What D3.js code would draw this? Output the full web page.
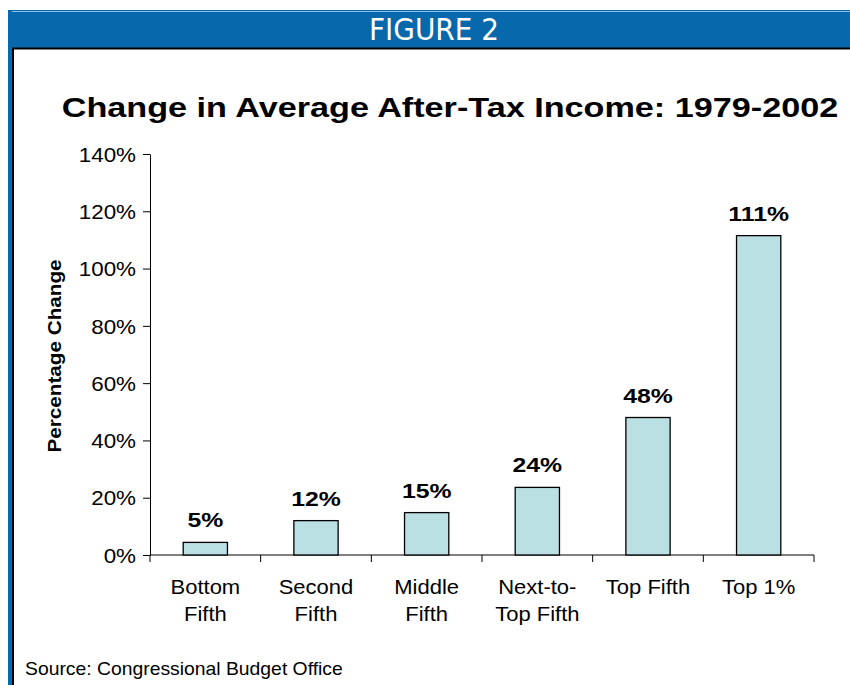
<!DOCTYPE html>
<html><head><meta charset="utf-8">
<script src="https://cdn.jsdelivr.net/npm/d3@7"></script>
<style>body{margin:0;background:#fff}svg{display:block}</style>
</head><body>
<svg id="c" width="850" height="685"></svg>
<script>
const categories = [["Bottom","Fifth"],["Second","Fifth"],["Middle","Fifth"],["Next-to-","Top Fifth"],["Top Fifth"],["Top 1%"]];
const values = [4.4, 12, 14.8, 23.6, 48, 111.5];
const valueLabels = ["5%","12%","15%","24%","48%","111%"];
const yTicks = [0,20,40,60,80,100,120,140];

const svg = d3.select("#c");
const F = "Arial, 'Liberation Sans', sans-serif";

// place text at (x,y) with horizontal stretch sx
function stext(parent, x, y, sx, str){
  return parent.append("text").attr("transform",`translate(${x},${y}) scale(${sx},1)`).text(str);
}

// frame
svg.append("rect").attr("x",8).attr("y",10).attr("width",842).attr("height",38).attr("fill","#0868AC");
svg.append("line").attr("x1",8).attr("x2",850).attr("y1",11.5).attr("y2",11.5).attr("stroke","#8cbfe0").attr("stroke-width",1);
svg.append("rect").attr("x",8).attr("y",10).attr("width",4).attr("height",675).attr("fill","#0868AC");
svg.append("line").attr("x1",12).attr("x2",850).attr("y1",48.5).attr("y2",48.5).attr("stroke","#000").attr("stroke-width",2);
svg.append("line").attr("x1",13).attr("x2",13).attr("y1",48).attr("y2",685).attr("stroke","#000").attr("stroke-width",2);

svg.append("text").attr("x",434).attr("y",40).attr("text-anchor","middle")
  .attr("fill","#fff").style("font-family","'Liberation Sans Narrow', 'DejaVu Sans Condensed', sans-serif")
  .style("font-size","31px").style("font-weight","normal").text("FIGURE 2");

stext(svg,450,117,1.2,"Change in Average After-Tax Income: 1979-2002")
  .attr("text-anchor","middle").style("font-family",F).style("font-size","28.5px").style("font-weight","bold");

const x = d3.scaleBand().domain(d3.range(categories.length)).range([150,814]).paddingInner(0.6).paddingOuter(0.3);
const y = d3.scaleLinear().domain([0,140]).range([555,154]);

// y axis
const ya = svg.append("g").attr("transform","translate(150,0)")
  .call(d3.axisLeft(y).tickValues(yTicks).tickFormat(d=>d+"%").tickSize(7).tickSizeOuter(0));
ya.select(".domain").attr("stroke","#000");
ya.selectAll(".tick line").attr("stroke","#000");
ya.selectAll("text").style("font-family",F).style("font-size","20px").attr("fill","#000")
  .attr("x",0).attr("dy","0.36em").attr("transform","translate(-14,0) scale(1.12,1)");

// x axis line & ticks at category boundaries
const step = x.step();
const bounds = d3.range(categories.length+1).map(i=>150+i*step);
svg.append("line").attr("x1",150).attr("x2",814).attr("y1",y(0)).attr("y2",y(0)).attr("stroke","#000");
svg.selectAll(".xt").data(bounds).enter().append("line")
  .attr("x1",d=>d).attr("x2",d=>d).attr("y1",y(0)).attr("y2",y(0)+7).attr("stroke","#000");

// bars
svg.selectAll(".bar").data(values).enter().append("rect")
  .attr("x",(d,i)=>x(i)).attr("width",x.bandwidth())
  .attr("y",d=>y(d)).attr("height",d=>y(0)-y(d))
  .attr("fill","#BAE0E3").attr("stroke","#000").attr("stroke-width",1.3);

values.forEach((d,i)=>{
  stext(svg, x(i)+x.bandwidth()/2, y(d)-15, 1.18, valueLabels[i])
    .attr("text-anchor","middle").style("font-family",F).style("font-size","21px").style("font-weight","bold");
});

// category labels
categories.forEach((lines,i)=>{
  lines.forEach((s,j)=>{
    stext(svg, x(i)+x.bandwidth()/2, 594+j*27, 1.1, s)
      .attr("text-anchor","middle").style("font-family",F).style("font-size","20px");
  });
});

svg.append("text").attr("transform","translate(61,356) rotate(-90) scale(1.15,1)").attr("text-anchor","middle")
  .style("font-family",F).style("font-size","18px").style("font-weight","bold").text("Percentage Change");

stext(svg,25,675,1.075,"Source: Congressional Budget Office").style("font-family",F).style("font-size","18px");
</script>
</body></html>
